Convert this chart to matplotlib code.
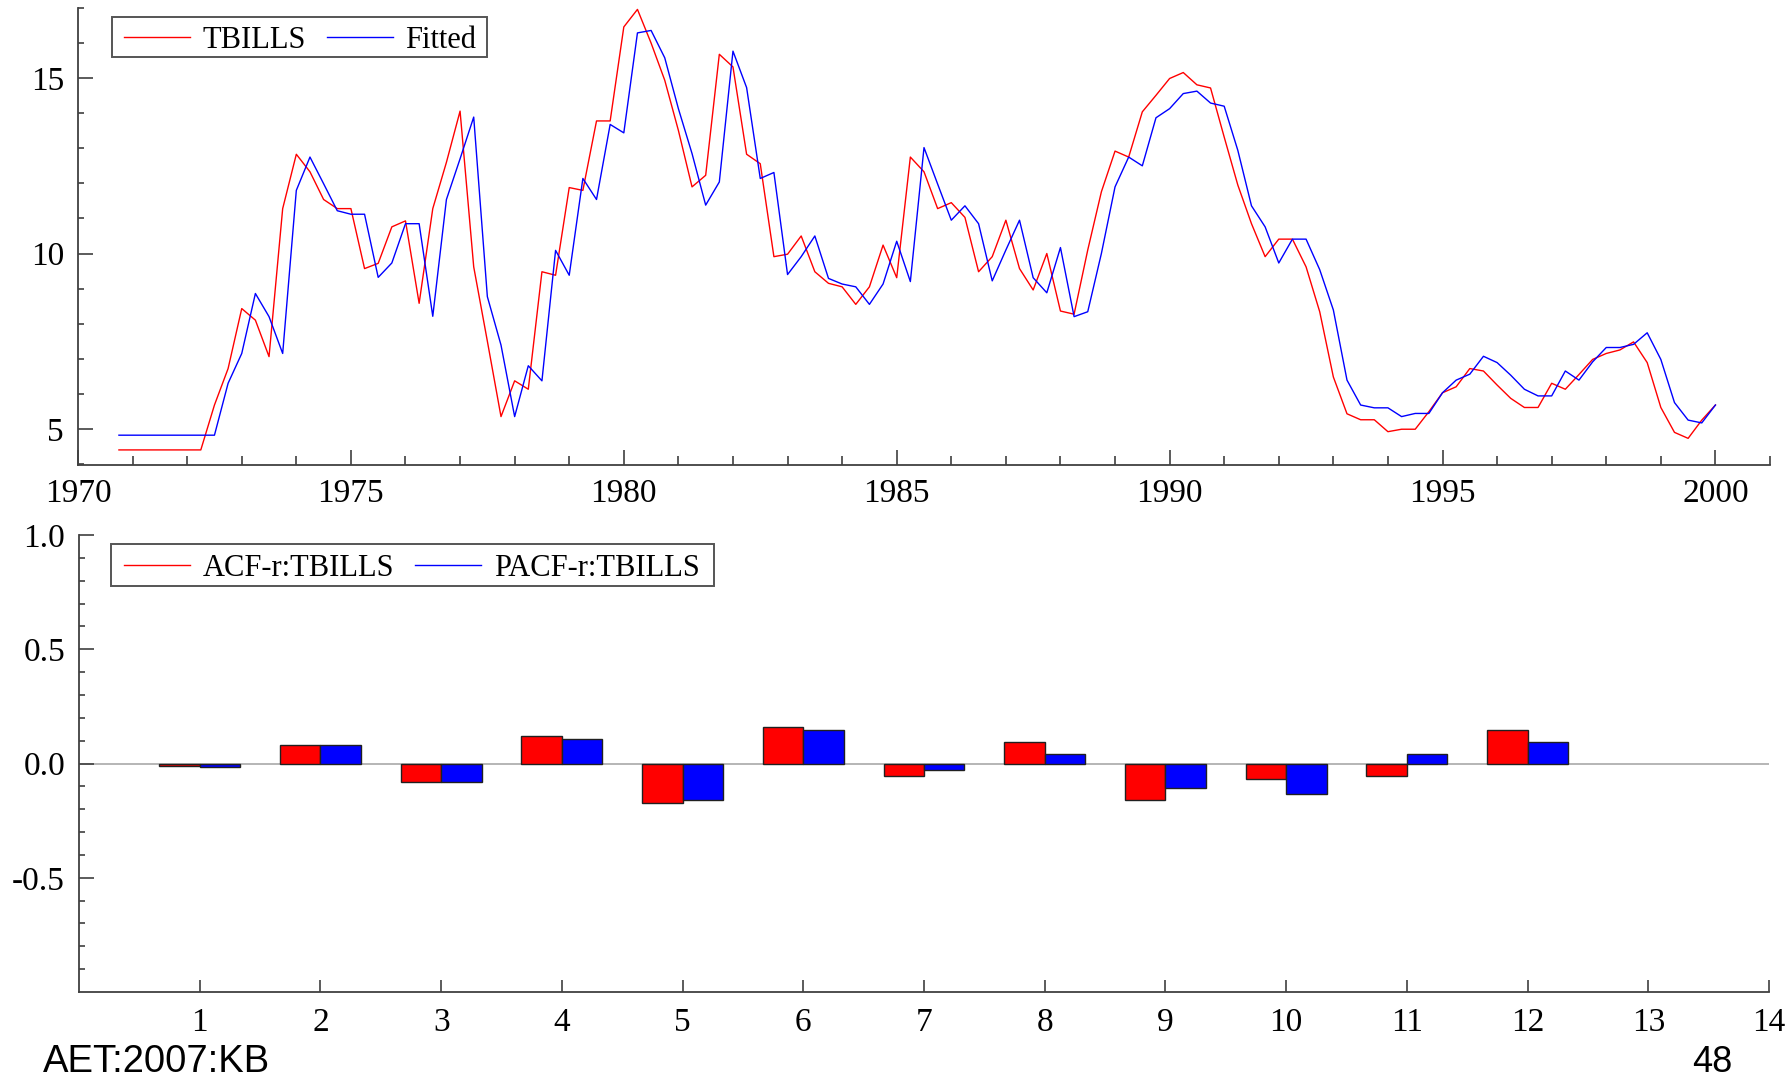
import matplotlib
matplotlib.use("Agg")
import matplotlib.pyplot as plt
import numpy as np
from matplotlib.patches import Rectangle

# ---------------- data ----------------
start_year, start_q = 1970, 4          # 1970Q4 ... 2000Q1
tbills = [
    4.40,                               # 1970
    4.40, 4.40, 4.40, 4.40,             # 1971
    4.40, 4.40, 5.68, 6.72,             # 1972
    8.43, 8.10, 7.06, 11.28,            # 1973
    12.83, 12.33, 11.54, 11.28,         # 1974
    11.28, 9.57, 9.72, 10.76,           # 1975
    10.93, 8.58, 11.28, 12.60,          # 1976
    14.06, 9.62, 7.50, 5.35,            # 1977
    6.37, 6.13, 9.48, 9.38,             # 1978
    11.88, 11.80, 13.78, 13.78,         # 1979
    16.46, 16.96, 16.00, 14.94,         # 1980
    13.51, 11.90, 12.23, 15.68,         # 1981
    15.32, 12.83, 12.56, 9.91,          # 1982
    9.98, 10.50, 9.48, 9.15,            # 1983
    9.05, 8.55, 9.05, 10.24,            # 1984
    9.31, 12.75, 12.33, 11.28,          # 1985
    11.45, 11.03, 9.48, 9.91,           # 1986
    10.95, 9.57, 8.96, 10.00,           # 1987
    8.36, 8.27, 10.10, 11.76,           # 1988
    12.92, 12.75, 14.04, 14.51,         # 1989
    14.99, 15.16, 14.81, 14.72,         # 1990
    13.32, 11.95, 10.85, 9.91,          # 1991
    10.41, 10.41, 9.62, 8.34,           # 1992
    6.48, 5.43, 5.26, 5.26,             # 1993
    4.92, 4.99, 4.99, 5.49,             # 1994
    6.03, 6.20, 6.72, 6.65,             # 1995
    6.25, 5.87, 5.61, 5.61,             # 1996
    6.30, 6.13, 6.55, 6.98,             # 1997
    7.15, 7.25, 7.48, 6.89,             # 1998
    5.61, 4.90, 4.73, 5.25,             # 1999
    5.68,                               # 2000
]
fitted = [
    4.82,                               # 1970
    4.82, 4.82, 4.82, 4.82,             # 1971
    4.82, 4.82, 4.82, 6.30,             # 1972
    7.15, 8.86, 8.20, 7.15,             # 1973
    11.80, 12.75, 11.99, 11.22,         # 1974
    11.12, 11.12, 9.32, 9.73,           # 1975
    10.85, 10.85, 8.21, 11.54,          # 1976
    12.70, 13.89, 8.77, 7.39,           # 1977
    5.35, 6.80, 6.37, 10.09,            # 1978
    9.38, 12.14, 11.54, 13.68,          # 1979
    13.44, 16.29, 16.36, 15.58,         # 1980
    14.13, 12.85, 11.38, 12.04,         # 1981
    15.77, 14.73, 12.14, 12.31,         # 1982
    9.40, 9.91, 10.50, 9.29,            # 1983
    9.13, 9.05, 8.55, 9.13,             # 1984
    10.35, 9.20, 13.02, 11.98,          # 1985
    10.95, 11.36, 10.85, 9.22,          # 1986
    10.10, 10.95, 9.31, 8.88,           # 1987
    10.17, 8.20, 8.34, 10.00,           # 1988
    11.90, 12.75, 12.50, 13.87,         # 1989
    14.13, 14.56, 14.63, 14.29,         # 1990
    14.20, 12.94, 11.36, 10.76,         # 1991
    9.73, 10.41, 10.41, 9.54,           # 1992
    8.39, 6.39, 5.68, 5.60,             # 1993
    5.60, 5.35, 5.44, 5.44,             # 1994
    6.03, 6.39, 6.56, 7.07,             # 1995
    6.89, 6.53, 6.13, 5.94,             # 1996
    5.94, 6.65, 6.39, 6.91,             # 1997
    7.32, 7.32, 7.41, 7.74,             # 1998
    6.98, 5.75, 5.25, 5.17,             # 1999
    5.68,                               # 2000
]
lags = [1, 2, 3, 4, 5, 6, 7, 8, 9, 10, 11, 12]
acf = [-0.013, 0.083, -0.081, 0.120, -0.173, 0.161, -0.053, 0.094, -0.159, -0.067, -0.053, 0.147]
pacf = [-0.014, 0.083, -0.081, 0.108, -0.161, 0.148, -0.028, 0.042, -0.108, -0.133, 0.042, 0.094]
year_ticks = [1970, 1975, 1980, 1985, 1990, 1995, 2000]
lag_ticks = list(range(1, 15))

# quarterly time index
dates = [start_year + (start_q - 1) / 4 + i / 4 for i in range(len(tbills))]

# ---------------- style ----------------
W, H = 1790, 1078
DPI = 100
SERIF = ["Liberation Serif", "DejaVu Serif"]
SANS = ["Liberation Sans", "DejaVu Sans"]
AXC = "#404040"
plt.rcParams["font.family"] = SERIF

fig = plt.figure(figsize=(W / DPI, H / DPI), dpi=DPI)


def px_axes(l, t, r, b):
    return fig.add_axes([l / W, 1 - b / H, (r - l) / W, (b - t) / H])


def style_axes(ax):
    for s in ("top", "right"):
        ax.spines[s].set_visible(False)
    for s in ("left", "bottom"):
        ax.spines[s].set_color(AXC)
        ax.spines[s].set_linewidth(1.3)
    ax.tick_params(which="both", direction="in", color=AXC, width=1.2,
                   labelsize=24, labelcolor="black")


def px_legend(ax, handles, labels, x, yc, box):
    leg = fig.legend(handles, labels, loc="center left",
                     bbox_to_anchor=(x / W, 1 - yc / H), ncol=2, frameon=False,
                     fontsize=22, handlelength=2.17, handletextpad=0.4,
                     columnspacing=0.69, borderpad=0, borderaxespad=0)
    l, t, r, b = box
    fig.patches.append(Rectangle((l / W, 1 - b / H), (r - l) / W, (b - t) / H,
                                 transform=fig.transFigure, fill=False,
                                 edgecolor="#555555", linewidth=1.4))
    return leg


# ---------------- top panel ----------------
ax1 = px_axes(78, 8, 1770, 465)
style_axes(ax1)
l1, = ax1.plot(dates, tbills, color="#ff0000", lw=1.0)
l2, = ax1.plot(dates, fitted, color="#0000ff", lw=1.0)
ax1.set_xlim(1970, 2001)
ax1.set_ylim(3.97, 17.0)
ax1.set_xticks(year_ticks)
ax1.set_xticks(range(1970, 2002), minor=True)
ax1.set_yticks([5, 10, 15])
ax1.set_yticks(range(4, 18), minor=True)
ax1.tick_params(axis="x", which="major", length=11, pad=10)
ax1.tick_params(axis="x", which="minor", length=6.5)
ax1.tick_params(axis="y", which="major", length=11, pad=10)
ax1.tick_params(axis="y", which="minor", length=4.3)
px_legend(ax1, [l1, l2], ["TBILLS", "Fitted"], 124, 40, (112, 17, 487, 57))

# ---------------- bottom panel ----------------
ax2 = px_axes(79, 535, 1769, 992)
style_axes(ax2)
bw = 0.335
ax2.axhline(0, color="#b0b0b0", lw=1.3, zorder=1)
ax2.bar(lags, acf, width=-bw, align="edge", color="#ff0000",
        edgecolor="#202020", linewidth=1.0, zorder=2)
ax2.bar(lags, pacf, width=bw, align="edge", color="#0000ff",
        edgecolor="#202020", linewidth=1.0, zorder=2)
ax2.set_xlim(0, 14)
ax2.set_ylim(-1.0, 1.0)
ax2.set_xticks(lag_ticks)
ax2.set_yticks([-0.5, 0.0, 0.5, 1.0])
ax2.set_yticklabels(["-0.5", "0.0", "0.5", "1.0"])
ax2.set_yticks(np.round(np.arange(-0.9, 1.0, 0.1), 1), minor=True)
ax2.tick_params(axis="x", which="major", length=8.6, pad=11)
ax2.tick_params(axis="y", which="major", length=11, pad=10)
ax2.tick_params(axis="y", which="minor", length=4.3)
h1 = plt.Line2D([], [], color="#ff0000", lw=1.0)
h2 = plt.Line2D([], [], color="#0000ff", lw=1.0)
px_legend(ax2, [h1, h2], ["ACF-r:TBILLS", "PACF-r:TBILLS"], 124, 568,
          (111, 544, 714, 586))

# ---------------- footer ----------------
fig.text(43 / W, 1 - 1071.5 / H, "AET:2007:KB", family=SANS, fontsize=27.5,
         ha="left", va="baseline")
fig.text(1692 / W, 1 - 1072 / H, "48", family=SANS, fontsize=26,
         ha="left", va="baseline")

fig.savefig("out.png", dpi=DPI)
